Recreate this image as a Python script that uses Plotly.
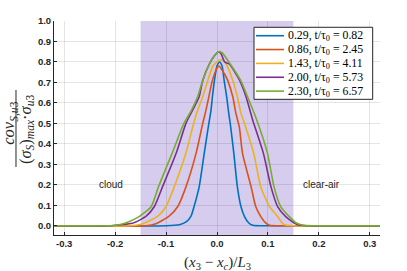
import plotly.graph_objects as go

# ---- data ----
labels = ["0.29, t/τ<sub>0</sub> = 0.82", "0.86, t/τ<sub>0</sub> = 2.45",
          "1.43, t/τ<sub>0</sub> = 4.11", "2.00, t/τ<sub>0</sub> = 5.73",
          "2.30, t/τ<sub>0</sub> = 6.57"]
colors = ["#0072BD", "#D95319", "#EDB120", "#7E2F8E", "#77AC30"]

x_029 = [-0.32, -0.10, -0.074, -0.060, -0.051, -0.045, -0.035, -0.025, -0.016, -0.012, -0.009,
         -0.005, 0.000, 0.005, 0.010, 0.014, 0.019, 0.023, 0.026, 0.033, 0.040, 0.047, 0.054,
         0.062, 0.070, 0.10, 0.32]
y_029 = [0, 0, 0.005, 0.02, 0.047, 0.094, 0.19, 0.355, 0.50, 0.56, 0.63,
         0.71, 0.78, 0.80, 0.78, 0.71, 0.63, 0.55, 0.50, 0.355, 0.19, 0.094, 0.045,
         0.015, 0.003, 0, 0]

x_086 = [-0.32, -0.14, -0.120, -0.094, -0.077, -0.061, -0.041, -0.028, -0.023, -0.016, -0.009,
         0.000, 0.004, 0.010, 0.015, 0.021, 0.031, 0.037, 0.044, 0.050, 0.067, 0.076, 0.086,
         0.095, 0.103, 0.13, 0.32]
y_086 = [0, 0, 0.01, 0.047, 0.094, 0.19, 0.355, 0.50, 0.55, 0.63, 0.71,
         0.77, 0.78, 0.76, 0.74, 0.71, 0.63, 0.55, 0.48, 0.355, 0.19, 0.094, 0.045,
         0.015, 0.003, 0, 0]

x_143 = [-0.32, -0.17, -0.146, -0.116, -0.100, -0.084, -0.061, -0.048, -0.040, -0.028, -0.018,
         -0.008, 0.000, 0.006, 0.012, 0.018, 0.031, 0.040, 0.047, 0.054, 0.072, 0.086, 0.103,
         0.119, 0.126, 0.132, 0.15, 0.32]
y_143 = [0, 0, 0.01, 0.047, 0.094, 0.19, 0.355, 0.48, 0.55, 0.63, 0.71,
         0.78, 0.80, 0.81, 0.81, 0.79, 0.71, 0.63, 0.55, 0.50, 0.355, 0.19, 0.094,
         0.045, 0.02, 0.005, 0, 0]

x_200 = [-0.32, -0.21, -0.19, -0.166, -0.139, -0.123, -0.107, -0.080, -0.061, -0.051, -0.035,
         -0.028, -0.015, -0.005, 0.003, 0.008, 0.015, 0.024, 0.044, 0.057, 0.070, 0.091,
         0.106, 0.119, 0.135, 0.158, 0.18, 0.32]
y_200 = [0, 0, 0.005, 0.012, 0.047, 0.094, 0.19, 0.355, 0.50, 0.55, 0.63,
         0.71, 0.79, 0.83, 0.85, 0.84, 0.80, 0.79, 0.712, 0.63, 0.517, 0.355,
         0.19, 0.094, 0.045, 0.005, 0, 0]

x_230 = [-0.32, -0.22, -0.198, -0.178, -0.160, -0.150, -0.129, -0.115, -0.088, -0.065, -0.051,
         -0.038, -0.028, -0.015, -0.005, 0.003, 0.010, 0.026, 0.046, 0.060, 0.078, 0.099,
         0.112, 0.125, 0.142, 0.155, 0.167, 0.19, 0.32]
y_230 = [0, 0, 0.003, 0.015, 0.035, 0.05, 0.094, 0.19, 0.355, 0.50, 0.56,
         0.63, 0.71, 0.79, 0.83, 0.85, 0.845, 0.79, 0.712, 0.63, 0.517, 0.355,
         0.19, 0.094, 0.045, 0.015, 0.004, 0, 0]

xs = [x_029, x_086, x_143, x_200, x_230]
ys = [y_029, y_086, y_143, y_200, y_230]

x_ticks = [-0.3, -0.2, -0.1, 0.0, 0.1, 0.2, 0.3]
y_ticks = [0.0, 0.1, 0.2, 0.3, 0.4, 0.5, 0.6, 0.7, 0.8, 0.9, 1.0]
region_lo, region_hi = -0.15, 0.15

fig = go.Figure()
for x, y, lab, c in zip(xs, ys, labels, colors):
    fig.add_trace(go.Scatter(x=x, y=y, mode="lines", name=lab, showlegend=False,
                             line=dict(color=c, width=1.6, shape="spline", smoothing=0.6)))

fig.add_shape(type="rect", x0=region_lo, x1=region_hi, y0=0, y1=1, yref="paper",
              xref="x", fillcolor="rgb(213,204,238)", line=dict(width=0), layer="below")

tickfont = dict(family="Liberation Sans, Arial", size=9.5, color="#262626", weight="bold")
fig.update_xaxes(range=[-0.32, 0.32], tickvals=x_ticks, ticktext=[f"{v:.1f}" for v in x_ticks],
                 showgrid=True, gridcolor="rgba(38,38,38,0.12)", gridwidth=1,
                 showline=True, linecolor="#262626", linewidth=1, ticks="inside",
                 ticklen=3, tickcolor="#262626", tickfont=tickfont, zeroline=False,
                 automargin=False)
fig.update_yaxes(range=[-0.045, 1.0], tickvals=y_ticks, ticktext=[f"{v:.1f}" for v in y_ticks],
                 showgrid=True, gridcolor="rgba(38,38,38,0.12)", gridwidth=1,
                 showline=True, linecolor="#262626", linewidth=1, ticks="inside",
                 ticklen=3, tickcolor="#262626", tickfont=tickfont, zeroline=False,
                 automargin=False)

# x-axis title
fig.add_annotation(xref="x", yref="paper", x=0.0, y=0, yshift=-28, yanchor="middle",
                   text="(<i>x</i><sub>3</sub> − <i>x<sub>c</sub></i>)/<i>L</i><sub>3</sub>",
                   showarrow=False,
                   font=dict(family="Liberation Serif, serif", size=15, color="#262626"))

# y-axis title as a fraction
mathfont = dict(family="Liberation Serif, serif", size=16.5, color="#262626")
fig.add_annotation(xref="paper", yref="paper", x=0, y=0.52, xshift=-44, textangle=-90,
                   text="<i>cov</i><sub><i>S</i>,<i>u</i>3</sub>", showarrow=False,
                   xanchor="center", yanchor="middle", font=mathfont)
fig.add_annotation(xref="paper", yref="paper", x=0, y=0.495, xshift=-28, textangle=-90,
                   text="(<i>σ<sub>S</sub></i>)<sub><i>max</i></sub>·<i>σ</i><sub><i>u</i>3</sub>",
                   showarrow=False, xanchor="center", yanchor="middle", font=mathfont)
fig.add_shape(type="line", xref="paper", yref="paper", x0=-0.1166, x1=-0.1166,
              y0=0.3178, y1=0.6776, line=dict(color="#262626", width=1))

labfont = dict(family="Liberation Sans, Arial", size=10, color="#262626")
fig.add_annotation(x=-0.209, y=0.2, text="cloud", showarrow=False, font=labfont)
fig.add_annotation(x=0.205, y=0.2, text="clear-air", showarrow=False, font=labfont)

# legend drawn by hand (box, line samples, labels) in paper coordinates
leg_x0, leg_x1, leg_y0, leg_y1 = 0.6135, 0.9776, 0.634, 0.9706
row_y = [0.9313, 0.8666, 0.8019, 0.7371, 0.6724]
fig.add_shape(type="rect", xref="paper", yref="paper", x0=leg_x0, x1=leg_x1, y0=leg_y0, y1=leg_y1,
              fillcolor="white", line=dict(color="#262626", width=1), layer="above")
for ry, lab, c in zip(row_y, labels, colors):
    fig.add_shape(type="line", xref="paper", yref="paper", x0=0.6196, x1=0.7055, y0=ry, y1=ry,
                  line=dict(color=c, width=1.6), layer="above")
    fig.add_annotation(xref="paper", yref="paper", x=0.7117, y=ry, text=lab, showarrow=False,
                       xanchor="left", yanchor="middle",
                       font=dict(family="Liberation Serif, serif", size=11.8, color="black"))

fig.update_layout(
    width=407, height=271,
    margin=dict(l=54, r=27, t=21, b=36),
    paper_bgcolor="white", plot_bgcolor="white",
    showlegend=False,
)
fig.write_html("out.html", config={"displayModeBar": False},
               post_script="document.body.style.margin='0';")
